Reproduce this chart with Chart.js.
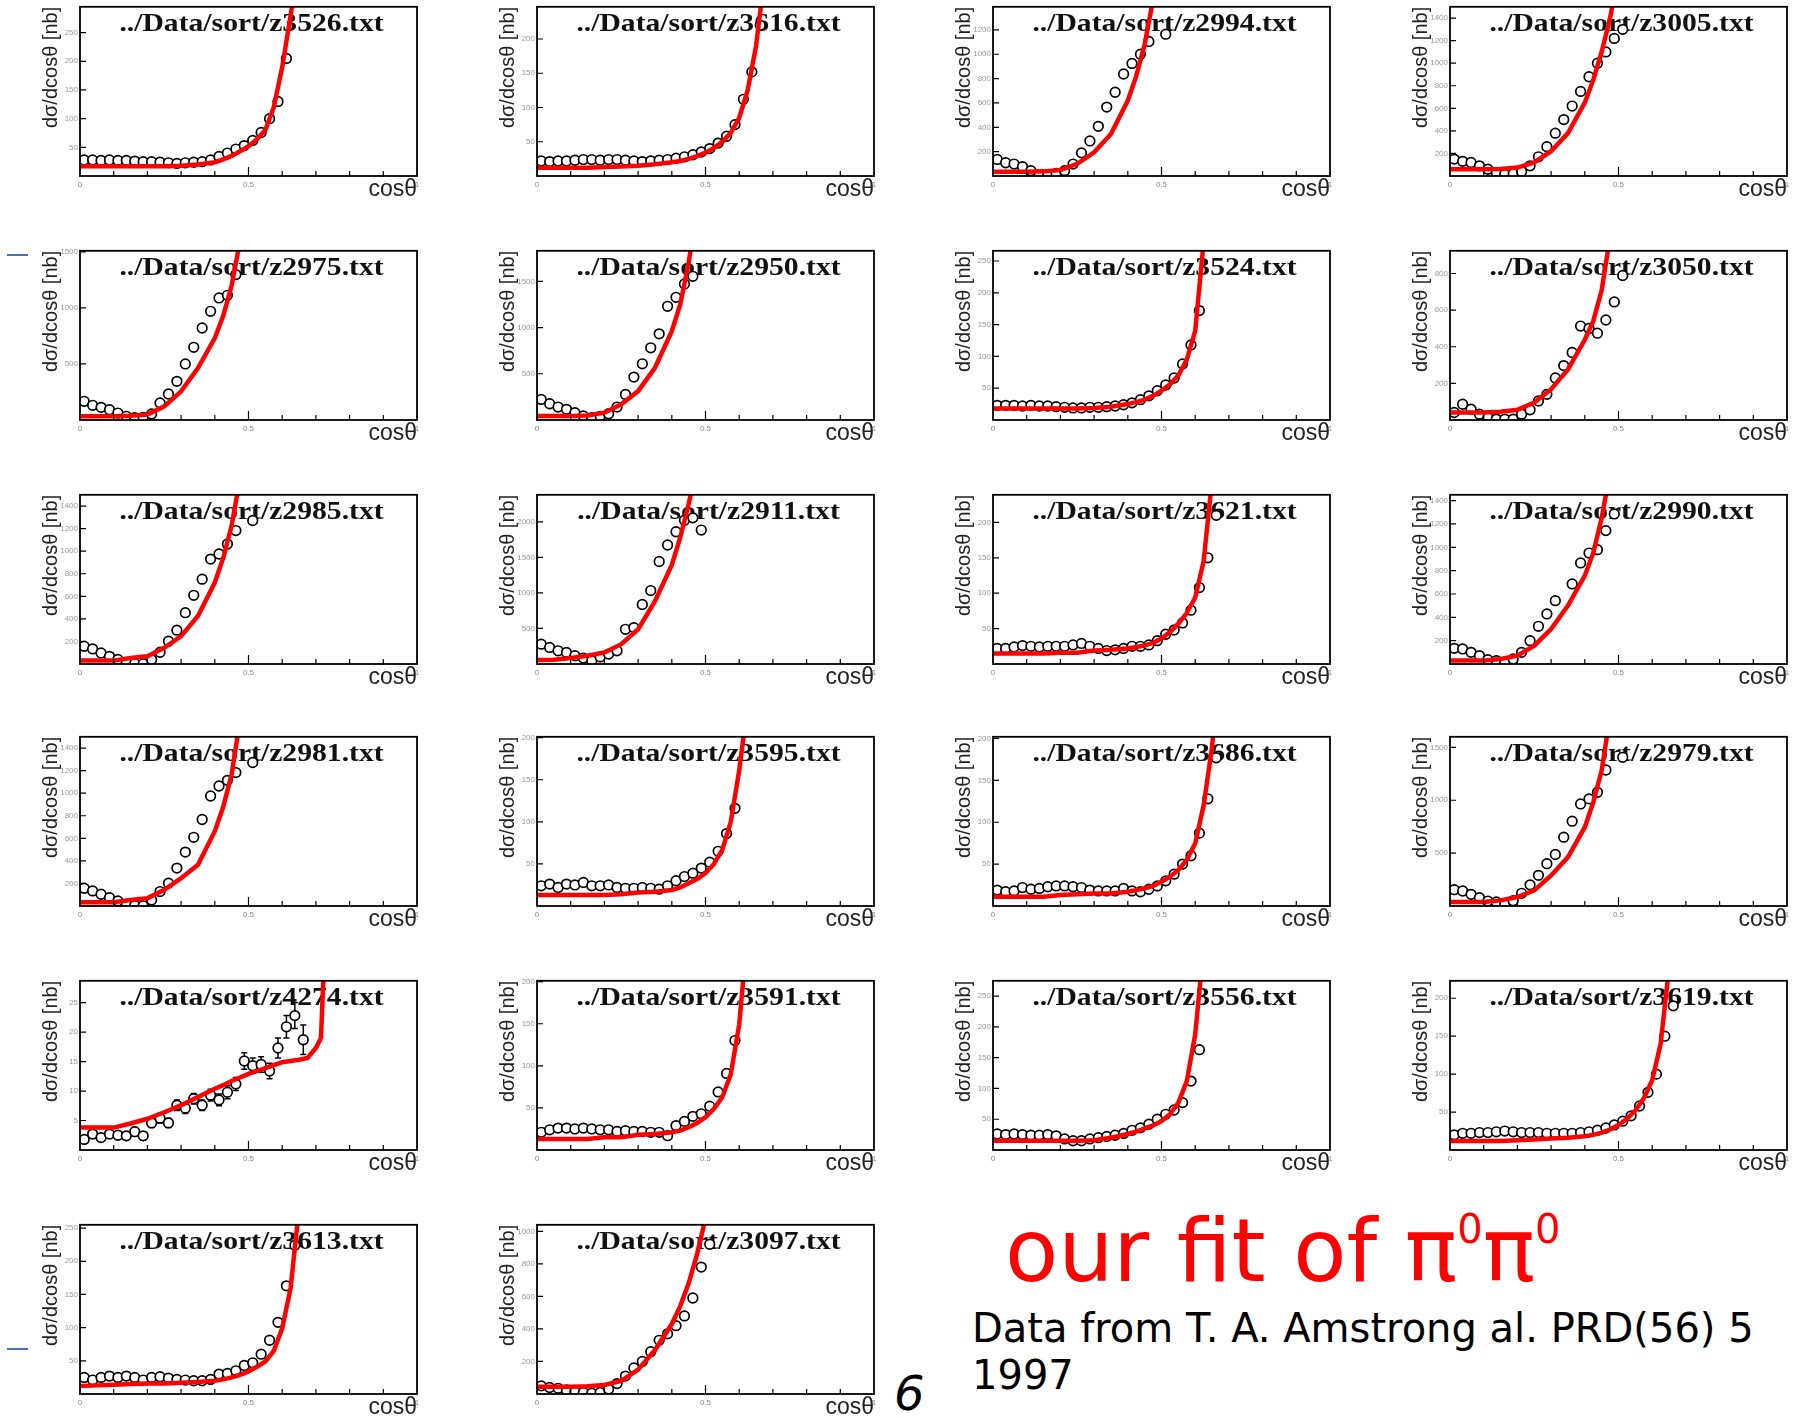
<!DOCTYPE html>
<html>
<head>
<meta charset="utf-8">
<script src="https://cdn.jsdelivr.net/npm/chart.js@4.4.0/dist/chart.umd.min.js"></script>
<style>
  html, body { margin: 0; padding: 0; background: #fff; }
  body { width: 1806px; height: 1418px; position: relative; overflow: hidden; font-family: "DejaVu Sans", sans-serif; }
  .panel { position: absolute; width: 457px; height: 244px; }
  .blue-mark { position: absolute; left: 7px; width: 21px; height: 2px; background: #4472c4; }
  .fit-note { position: absolute; left: 1005px; top: 1186px; color: #ff0000; font-size: 87px; line-height: 87px; white-space: nowrap; }
  .fit-note span { font-size: 40px; vertical-align: 38px; }
  .source { position: absolute; left: 972px; top: 1305px; color: #000; font-size: 40px; line-height: 47px; white-space: nowrap; }
  .page-no { position: absolute; left: 894px; top: 1369px; font-size: 48px; line-height: 48px; font-style: italic; color: #000; }
</style>
</head>
<body>
<div class="blue-mark" style="top:254px"></div>
<div class="blue-mark" style="top:1348px"></div>
<div class="fit-note">our fit of π<span>0</span>π<span>0</span></div>
<div class="source">Data from T. A. Amstrong al. PRD(56) 5<br>1997</div>
<div class="page-no">6</div>
<script>
// bins en cos(theta) (centres) et grille de la courbe de fit
const cosBins = [0.0125, 0.0375, 0.0625, 0.0875, 0.1125, 0.1375, 0.1625, 0.1875, 0.2125, 0.2375,
                 0.2625, 0.2875, 0.3125, 0.3375, 0.3625, 0.3875, 0.4125, 0.4375, 0.4625, 0.4875,
                 0.5125, 0.5375, 0.5625, 0.5875, 0.6125, 0.6375, 0.6625];
const binHalf = 0.0125;
const fitX = [0, 0.05, 0.1, 0.15, 0.2, 0.25, 0.3, 0.35, 0.4, 0.425, 0.45, 0.475, 0.5, 0.525,
              0.55, 0.575, 0.6, 0.625, 0.65, 0.675, 0.7, 0.715, 0.73];
const xTicks = [0, 0.5, 1];
const xMinorTicks = [0.1, 0.2, 0.3, 0.4, 0.5, 0.6, 0.7, 0.8, 0.9];

// graduations y de chaque cadre
const ticks50 = [50, 100, 150, 200, 250];
const ticks200 = [200, 400, 600, 800, 1000, 1200, 1400];
const ticks500 = [500, 1000, 1500, 2000];
const ticks5 = [5, 10, 15, 20, 25];

// donnees (dsigma/dcos en nb)
const z3526 = [28, 28, 27, 28, 27, 27, 26, 25, 25, 24, 23, 22, 23, 24, 25, 28, 34, 40, 47, 53, 62, 76, 100, 130, 205];
const z3526Fit = [17, 17, 17, 17, 17, 17, 18, 20, 24, 29, 35, 43, 52, 64, 80, 120, 190, 280, 380];
const z3616 = [22, 21, 22, 22, 23, 24, 24, 23, 24, 24, 23, 22, 21, 22, 23, 24, 26, 28, 31, 35, 40, 48, 58, 75, 112, 152, 220];
const z3616Fit = [12, 12, 12, 12, 13, 14, 15, 17, 20, 22, 25, 29, 34, 41, 50, 63, 85, 125, 190, 290];
const z2994 = [136, 109, 98, 76, 44, 10, 8, 22, 44, 98, 190, 288, 408, 566, 688, 838, 925, 1000, 1105, null, 1165];
const z2994Fit = [35, 35, 35, 38, 50, 100, 195, 345, 620, 820, 1080, 1450];
const z3005 = [150, 130, 120, 90, 60, 30, 15, 20, 40, 90, 170, 260, 380, 500, 620, 750, 880, 1000, 1100, 1220, 1300];
const z3005Fit = [60, 60, 60, 62, 75, 120, 220, 380, 650, 850, 1100, 1400, 1800];
const z2975 = [167, 131, 113, 92, 62, 33, 20, 24, 54, 152, 232, 345, 500, 649, 821, 970, 1089, 1113, 1298];
const z2975Fit = [33, 33, 33, 38, 48, 122, 256, 464, 732, 930, 1200, 1600];
const z2950 = [223, 176, 140, 115, 79, 43, 25, 40, 68, 140, 277, 464, 608, 781, 932, 1230, 1327, 1471, 1554];
const z2950Fit = [43, 43, 43, 48, 79, 169, 313, 565, 960, 1250, 1700, 2300];
const z3524 = [23, 23, 23, 22, 23, 22, 22, 21, 20, 19, 19, 20, 20, 21, 22, 24, 27, 32, 38, 46, 55, 66, 88, 118, 172];
const z3524Fit = [18, 18, 18, 18, 18, 18, 19, 21, 25, 28, 32, 38, 46, 56, 70, 95, 140, 280];
const z3050 = [41, 86, 59, 32, 14, 5, 5, 5, 32, 56, 104, 140, 230, 297, 369, 513, 500, 474, 546, 645, 789];
const z3050Fit = [41, 41, 41, 45, 56, 95, 168, 276, 438, 540, 708, 1000];
const z2985 = [157, 134, 98, 68, 40, 15, 5, 3, 39, 104, 202, 300, 455, 609, 752, 930, 975, 1064, 1183, null, 1272];
const z2985Fit = [30, 30, 30, 53, 68, 143, 247, 425, 722, 940, 1227, 1650];
const z2911 = [279, 233, 186, 163, 116, 84, 47, 100, 140, 186, 488, 512, 837, 1033, 1442, 1674, 1860, 2023, 2056, 1884];
const z2911Fit = [56, 60, 84, 116, 163, 279, 488, 884, 1395, 1780, 2250, 2800];
const z3621 = [22, 22, 24, 26, 25, 24, 25, 25, 25, 27, 29, 25, 22, 19, 20, 22, 25, 25, 27, 33, 42, 48, 58, 76, 108, 150, 210];
const z3621Fit = [15, 15, 15, 15, 16, 16, 19, 20, 22, 24, 26, 30, 36, 45, 57, 72, 94, 145, 260];
const z2990 = [134, 129, 100, 71, 37, 29, 9, 43, 100, 200, 323, 429, 543, null, 686, 866, 951, 980, 1143, 1286];
const z2990Fit = [29, 29, 29, 43, 71, 157, 300, 500, 757, 950, 1250, 1650];
const z2981 = [157, 134, 104, 74, 45, 15, 5, 3, 53, 128, 202, 336, 478, 609, 767, 975, 1064, 1114, 1183, null, 1272];
const z2981Fit = [33, 33, 33, 53, 68, 143, 247, 366, 663, 880, 1168, 1650];
const z3595 = [24, 26, 22, 26, 25, 28, 24, 24, 25, 22, 21, 21, 22, 21, 20, 24, 30, 35, 39, 45, 52, 65, 86, 116];
const z3595Fit = [13, 13, 13, 13, 13, 14, 16, 17, 19, 22, 27, 32, 39, 50, 67, 100, 161, 240];
const z3686 = [19, 17, 18, 22, 20, 21, 23, 24, 24, 23, 22, 19, 18, 18, 18, 21, 18, 17, 20, 24, 30, 38, 50, 60, 87, 128, 177];
const z3686Fit = [11, 11, 11, 11, 13, 14, 15, 15, 17, 19, 21, 24, 29, 35, 43, 55, 75, 120, 190, 300];
const z2979 = [154, 142, 110, 79, 47, 38, 16, 50, 120, 200, 290, 400, 487, 651, 802, 965, 1013, 1075, 1286, null, 1406];
const z2979Fit = [38, 38, 38, 53, 85, 148, 289, 462, 745, 980, 1280, 1800];
const z4274 = [1.8, 2.7, 2.1, 2.7, 2.5, 2.4, 3.1, 2.4, 4.6, 5.4, 4.6, 7.6, 7.1, 8.7, 7.6, 9.3, 8.5, 9.8, 11.2, 15.1, 14.3, 14.5, 13.4, 17.3, 20.9, 22.8, 18.7];
const z4274Err = [0.6, 0.6, 0.6, 0.6, 0.6, 0.6, 0.7, 0.7, 0.8, 0.8, 0.8, 0.9, 0.9, 0.9, 0.9, 1.0, 1.0, 1.1, 1.1, 1.4, 1.3, 1.3, 1.3, 1.7, 1.9, 2.2, 2.5];
const z4274Fit = [3.8, 3.8, 3.8, 4.5, 5.3, 6.4, 7.6, 9.0, 10.4, 11.0, 11.7, 12.3, 12.9, 13.4, 13.9, 14.4, 14.9, 15.1, 15.3, 15.6, 17.3, 19.0, 40];
const z3591 = [21, 24, 26, 26, 25, 26, 25, 24, 24, 22, 23, 22, 22, 21, 21, 17, 29, 34, 40, 43, 52, 69, 91, 130];
const z3591Fit = [13, 13, 13, 13, 15, 15, 18, 19, 21, 23, 27, 32, 39, 49, 63, 90, 149, 260];
const z3556 = [26, 25, 26, 25, 24, 24, 25, 23, 18, 15, 15, 18, 20, 22, 24, 27, 32, 36, 42, 50, 58, 65, 77, 112, 163];
const z3556Fit = [15, 15, 15, 15, 15, 15, 16, 20, 26, 30, 35, 40, 47, 58, 77, 112, 188, 330];
const z3619 = [20, 22, 22, 23, 23, 24, 25, 24, 23, 23, 23, 22, 22, 22, 22, 23, 24, 26, 29, 33, 38, 45, 58, 76, 100, 150, 190];
const z3619Fit = [12, 12, 12, 12, 13, 14, 15, 16, 18, 20, 23, 27, 33, 41, 52, 68, 92, 140, 240];
const z3613 = [25, 21, 25, 27, 25, 27, 25, 21, 25, 26, 24, 22, 21, 20, 20, 22, 30, 31, 35, 43, 47, 60, 81, 108, 163, 224];
const z3613Fit = [12, 13, 14, 15, 16, 16, 17, 18, 20, 22, 25, 29, 34, 41, 49, 65, 99, 160, 280];
const z3097 = [50, 40, 35, 25, 15, 10, 5, 10, 30, 64, 110, 160, 200, 260, 330, 370, 420, 480, 590, 780, 920];
const z3097Fit = [45, 45, 45, 48, 55, 80, 150, 270, 430, 540, 680, 860, 1080];

const panelNames = ['z3526', 'z3616', 'z2994', 'z3005', 'z2975', 'z2950', 'z3524', 'z3050',
                    'z2985', 'z2911', 'z3621', 'z2990', 'z2981', 'z3595', 'z3686', 'z2979',
                    'z4274', 'z3591', 'z3556', 'z3619', 'z3613', 'z3097'];
const panelPoints = [z3526, z3616, z2994, z3005, z2975, z2950, z3524, z3050, z2985, z2911, z3621,
                     z2990, z2981, z3595, z3686, z2979, z4274, z3591, z3556, z3619, z3613, z3097];
const panelFits = [z3526Fit, z3616Fit, z2994Fit, z3005Fit, z2975Fit, z2950Fit, z3524Fit, z3050Fit,
                   z2985Fit, z2911Fit, z3621Fit, z2990Fit, z2981Fit, z3595Fit, z3686Fit, z2979Fit,
                   z4274Fit, z3591Fit, z3556Fit, z3619Fit, z3613Fit, z3097Fit];
const panelYMax = [295, 247, 1390, 1500, 1510, 1830, 266, 924, 1500, 2380, 239,
                   1450, 1500, 201, 202, 1600, 28.7, 201, 275, 223, 255, 1040];
const panelYTicks = [ticks50, ticks50, ticks200, ticks200, ticks500, ticks500, ticks50, ticks200,
                     ticks200, ticks500, ticks50, ticks200, ticks200, ticks50, ticks50, ticks500,
                     ticks5, ticks50, ticks50, ticks50, ticks50, ticks200];
const panelErrors = { z4274: z4274Err };

// position des cadres sur la page
const colLefts = [0, 457, 913, 1370];
const rowTops = [0, 244, 488, 730, 974, 1218];

// titre, barres d'erreur, cadre et graduations internes facon ROOT
const rootFrame = {
    id: 'rootFrame',
    beforeDatasetsDraw(chart, args, opts) {
        const { ctx, chartArea: a, scales: { x, y } } = chart;
        ctx.save();
        ctx.font = 'bold 26px "Liberation Serif"';
        ctx.fillStyle = '#111';
        ctx.textAlign = 'center';
        ctx.translate((a.left + a.right) / 2 + 3, a.top + 24);
        ctx.scale(1.14, 1);
        ctx.fillText(opts.title, 0, 0);
        ctx.restore();

        ctx.save();
        ctx.beginPath();
        ctx.rect(a.left, a.top, a.right - a.left, a.bottom - a.top);
        ctx.clip();
        ctx.strokeStyle = '#000';
        ctx.lineWidth = 1.5;
        ctx.beginPath();
        chart.data.datasets[1].data.forEach(p => {
            const py = y.getPixelForValue(p.y);
            ctx.moveTo(x.getPixelForValue(p.x - binHalf), py);
            ctx.lineTo(x.getPixelForValue(p.x + binHalf), py);
            if (p.err) {
                const px = x.getPixelForValue(p.x);
                const top = y.getPixelForValue(p.y + p.err);
                const bot = y.getPixelForValue(p.y - p.err);
                ctx.moveTo(px, top); ctx.lineTo(px, bot);
                ctx.moveTo(px - 3, top); ctx.lineTo(px + 3, top);
                ctx.moveTo(px - 3, bot); ctx.lineTo(px + 3, bot);
            }
        });
        ctx.stroke();
        ctx.restore();
    },
    afterDraw(chart) {
        const { ctx, chartArea: a, scales: { x, y } } = chart;
        ctx.save();
        ctx.strokeStyle = '#000';
        ctx.lineWidth = 1.8;
        ctx.strokeRect(a.left, a.top, a.right - a.left, a.bottom - a.top);
        ctx.lineWidth = 1.2;
        ctx.beginPath();
        xMinorTicks.forEach(v => {
            const px = x.getPixelForValue(v);
            ctx.moveTo(px, a.bottom);
            ctx.lineTo(px, a.bottom - (v === 0.5 ? 9 : 5));
        });
        y.ticks.forEach(t => {
            const py = y.getPixelForValue(t.value);
            ctx.moveTo(a.left, py);
            ctx.lineTo(a.left + 6, py);
        });
        ctx.stroke();
        ctx.restore();
    }
};

panelNames.forEach((name, i) => {
    const box = document.createElement('div');
    box.className = 'panel';
    box.style.left = colLefts[i % 4] + 'px';
    box.style.top = rowTops[Math.floor(i / 4)] + 'px';
    const canvas = document.createElement('canvas');
    canvas.width = 457;
    canvas.height = 244;
    box.appendChild(canvas);
    document.body.appendChild(box);

    const errs = panelErrors[name];
    const points = [];
    panelPoints[i].forEach((v, k) => {
        if (v === null) return;
        points.push({ x: cosBins[k], y: v, err: errs ? errs[k] : 0 });
    });
    const fit = panelFits[i].map((v, k) => ({ x: fitX[k], y: v }));
    const yMax = panelYMax[i];
    const yTicks = panelYTicks[i].filter(v => v < yMax);

    new Chart(canvas, {
        type: 'scatter',
        data: {
            datasets: [{
                type: 'line',
                data: fit,
                borderColor: '#ff0000',
                borderWidth: 4.5,
                pointRadius: 0,
                fill: false,
                tension: 0
            }, {
                data: points,
                pointStyle: 'circle',
                pointRadius: 4.8,
                borderWidth: 1.7,
                borderColor: '#000',
                backgroundColor: '#fff'
            }]
        },
        options: {
            responsive: false,
            animation: false,
            devicePixelRatio: 1,
            layout: { padding: { left: 0, right: 40, top: 5, bottom: 0 } },
            plugins: {
                legend: { display: false },
                tooltip: { enabled: false },
                rootFrame: { title: '../Data/sort/' + name + '.txt' }
            },
            scales: {
                x: {
                    type: 'linear',
                    min: 0,
                    max: 1,
                    grid: { display: false, drawTicks: false },
                    border: { display: false },
                    afterBuildTicks: s => { s.ticks = xTicks.map(v => ({ value: v })); },
                    ticks: {
                        padding: 4,
                        color: '#888',
                        font: { size: 8 },
                        maxRotation: 0,
                        autoSkip: false,
                        callback: v => String(v)
                    },
                    title: {
                        display: true,
                        text: 'cosθ',
                        align: 'end',
                        color: '#222',
                        font: { family: 'Liberation Sans', size: 23 },
                        padding: { top: 0, bottom: 41 }
                    },
                    afterFit: s => { s.height = 68; }
                },
                y: {
                    min: 0,
                    max: yMax,
                    grid: { display: false, drawTicks: false },
                    border: { display: false },
                    afterBuildTicks: s => { s.ticks = yTicks.map(v => ({ value: v })); },
                    ticks: {
                        padding: 2,
                        color: '#999',
                        font: { size: 8 },
                        autoSkip: false,
                        callback: v => String(v)
                    },
                    title: {
                        display: true,
                        text: 'dσ/dcosθ [nb]',
                        align: 'end',
                        color: '#222',
                        font: { family: 'Liberation Sans', size: 20 },
                        padding: { top: 39, bottom: 0 }
                    },
                    afterFit: s => { s.width = 80; }
                }
            }
        },
        plugins: [rootFrame]
    });
});
</script>
</body>
</html>
